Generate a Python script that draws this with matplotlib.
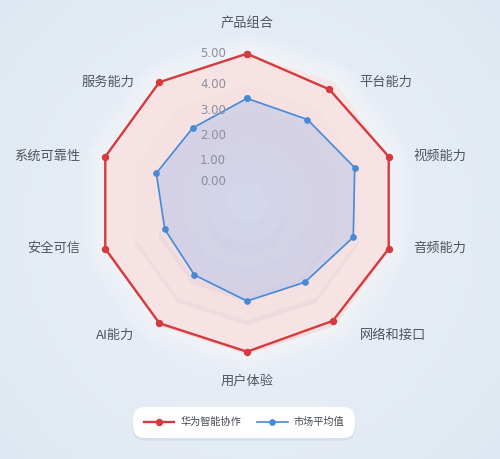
import numpy as np
import matplotlib.pyplot as plt
from matplotlib.transforms import ScaledTranslation

plt.rcParams['font.family'] = ['Noto Sans CJK SC', 'DejaVu Sans']

categories = ['产品组合', '平台能力', '视频能力', '音频能力', '网络和接口',
              '用户体验', 'AI能力', '安全可信', '系统可靠性', '服务能力']
huawei = [5.0, 4.7, 5.0, 5.0, 4.9, 5.0, 5.0, 5.0, 5.0, 5.0]
market = [3.5, 3.45, 3.8, 3.75, 3.3, 3.3, 3.0, 2.9, 3.2, 3.1]
tick_values = [0, 1, 2, 3, 4, 5]
series_names = ['华为智能协作', '市场平均值']

n = len(categories)
theta = np.linspace(0, 2 * np.pi, n, endpoint=False)
theta_c = np.append(theta, theta[0])


def closed(v):
    v = np.asarray(v, dtype=float)
    return np.append(v, v[0])


fig = plt.figure(figsize=(5.0, 4.59), dpi=100)

# background gradient
bg = fig.add_axes([0, 0, 1, 1])
yy, xx = np.mgrid[0:1:200j, 0:1:200j]
d = np.sqrt(((xx - 0.5) * 1.1) ** 2 + ((yy - 0.5) * 1.0) ** 2)
c0 = np.array([0.925, 0.945, 0.97])
c1 = np.array([0.875, 0.91, 0.95])
t = np.clip(d / 0.75, 0, 1)[..., None]
bg.imshow(c0 * (1 - t) + c1 * t, extent=[0, 1, 0, 1], aspect='auto')
bg.axis('off')

# radar
ax = fig.add_axes([0.1602, 0.1948, 0.6676, 0.7272], projection='polar')
ax.set_theta_offset(np.pi / 2)
ax.set_theta_direction(-1)
ax.set_ylim(0, 5.6)
ax.patch.set_alpha(0)
ax.spines['polar'].set_visible(False)
ax.grid(False)
ax.set_xticks([])
ax.set_yticks([])

ones = np.ones(n + 1)
# soft outer glow
for r in np.linspace(5.85, 5.1, 6):
    ax.fill(theta_c, ones * r, color='white', alpha=0.1, zorder=1, lw=0)

# terraced rings
ring_r = [5.0, 3.95, 3.1, 2.24, 1.4, 0.7]
ring_col = ['#f9e6e7', '#f5e2e4', '#f1e1e5', '#eee3e9', '#eee8ef', '#f2eff5']
shadow_col = ['#f2dedf', '#ecdadd', '#e8d9df', '#e4dbe3', '#e4e0e9', '#e8e6ef']
for i, (r, c, s) in enumerate(zip(ring_r, ring_col, shadow_col)):
    shift = ScaledTranslation(0, -(2 + i * 1.5) / 72, fig.dpi_scale_trans)
    ax.fill(theta_c, ones * r, color=s, lw=0, zorder=2,
            transform=ax.transData + shift)
    ax.fill(theta_c, ones * r, color=c, lw=0, zorder=2)

# series
ax.fill(theta_c, closed(huawei), color='#f8dcdd', alpha=0.25, lw=0, zorder=3)
ax.fill(theta_c, closed(market), color='#c0c9ea', alpha=0.6, lw=0, zorder=4)
ax.plot(theta_c, closed(huawei), color='#d43a3e', lw=1.7, marker='o',
        markersize=4.3, zorder=5, label=series_names[0])
ax.plot(theta_c, closed(market), color='#4689d8', lw=1.2, marker='o',
        markersize=3.8, zorder=6, label=series_names[1])

# radial tick labels
label_r = [0.7, 1.4, 2.24, 3.1, 3.95, 5.0]
for v, r in zip(tick_values, label_r):
    ax.annotate(f'{v:.2f}', xy=(0, r), xytext=(-24.5, 0), textcoords='offset points',
                ha='center', va='center', fontsize=8.5, color='#8c8f99',
                family='DejaVu Sans', zorder=7)

# category labels
px = 0.72
for ang, name in zip(theta, categories):
    s, c = np.sin(ang), np.cos(ang)
    if abs(s) < 0.01:
        ha, dx, dy = 'center', 0, 30 * np.sign(c)
    else:
        ha = 'left' if s > 0 else 'right'
        dx = 25 * np.sign(s)
        dy = -12 if c < -0.5 else 0
    ax.annotate(name, xy=(ang, 5.0), xytext=(dx * px, dy * px),
                textcoords='offset points', ha=ha, va='center', fontsize=9.5,
                color='#50555f', annotation_clip=False)

leg = fig.legend(loc='center', bbox_to_anchor=(0.488, 0.08), ncol=2, frameon=True,
                 fontsize=7.3, handlelength=3.0, handletextpad=0.6, columnspacing=1.6,
                 borderpad=0.85, fancybox=True, framealpha=1, edgecolor='none',
                 facecolor='white',
                 shadow={'color': '#c4cedd', 'alpha': 0.3, 'ox': 0, 'oy': -1.5})
leg.get_frame().set_boxstyle('round,pad=0.2,rounding_size=1.2')
for txt in leg.get_texts():
    txt.set_color('#444850')

fig.savefig('out.png', dpi=100)
plt.close(fig)
